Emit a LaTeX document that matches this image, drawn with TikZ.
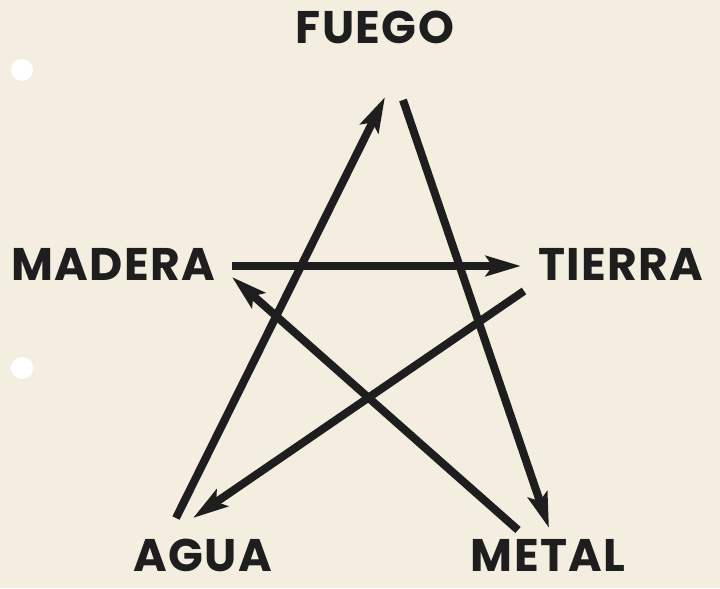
\documentclass[tikz,border=0pt]{standalone}
\usepackage{fontspec}
\setmainfont{Poppins}[LetterSpace=3]
\usetikzlibrary{arrows.meta}
\definecolor{Paper}{HTML}{F4EEE0}
\definecolor{Ink}{HTML}{1E1E1E}

\begin{document}
\begin{tikzpicture}[x=0.3mm,y=-0.3mm,
    elem/.style={text=Ink,inner sep=0pt,font=\fontsize{39}{42}\selectfont\bfseries},
    a/.style={-{Stealth[length=10.5mm,width=6mm,inset=2mm]},line width=2.4mm,draw=Ink},
    hole/.style={fill=white,draw=none}]
    \fill[Paper] (0,0) rectangle (720,588);
    \useasboundingbox (0,0) rectangle (720,588);
    \fill[hole] (22,70) circle (11);
    \fill[hole] (22,368) circle (11);
    % elements
    \node[elem] (fuego) at (375,27) {FUEGO};
    \node[elem] (madera) at (113,264) {MADERA};
    \node[elem] (tierra) at (621,264) {TIERRA};
    \node[elem] (agua) at (203,555) {AGUA};
    \node[elem] (metal) at (548,555) {METAL};
    % arrow ends
    \coordinate (aguaA) at (176,518); \coordinate (fuegoA) at (385,97);
    \coordinate (fuegoB) at (403,100); \coordinate (metalB) at (549,528);
    \coordinate (metalC) at (518,530); \coordinate (maderaC) at (232,277);
    \coordinate (maderaD) at (232,266); \coordinate (tierraD) at (521,266);
    \coordinate (tierraE) at (524,291); \coordinate (aguaE) at (193,518);
    \draw[a] (aguaA)--(fuegoA); \draw[a] (fuegoB)--(metalB); \draw[a] (metalC)--(maderaC);
    \draw[a] (maderaD)--(tierraD); \draw[a] (tierraE)--(aguaE);
  \end{tikzpicture}
\end{document}
